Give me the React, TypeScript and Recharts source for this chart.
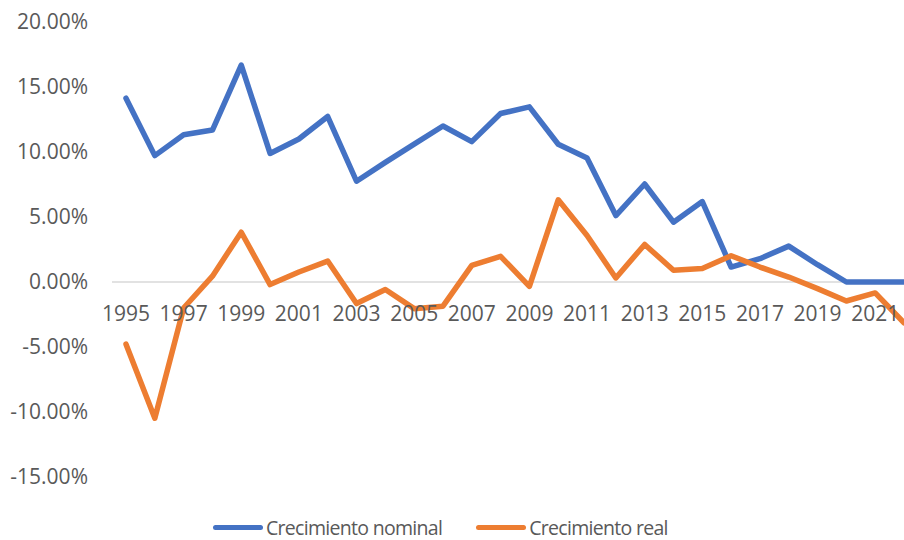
import React from "react";
import {
  LineChart,
  Line,
  XAxis,
  YAxis,
  ReferenceLine,
  LabelList,
  Legend,
} from "recharts";

const years = [
  1995, 1996, 1997, 1998, 1999, 2000, 2001, 2002, 2003, 2004, 2005, 2006, 2007,
  2008, 2009, 2010, 2011, 2012, 2013, 2014, 2015, 2016, 2017, 2018, 2019, 2020,
  2021, 2022,
];

// % growth
const nominal = [
  14.14, 9.72, 11.33, 11.69, 16.69, 9.89, 11.0, 12.73, 7.75, 9.2, 10.6, 12.0,
  10.8, 12.96, 13.47, 10.6, 9.54, 5.11, 7.54, 4.6, 6.19, 1.15, 1.79, 2.76, 1.33,
  0, 0, 0,
];

const real = [
  -4.78, -10.48, -2.0, 0.45, 3.83, -0.2, 0.77, 1.61, -1.66, -0.58, -2.05, -1.86,
  1.28, 1.97, -0.33, 6.32, 3.58, 0.31, 2.89, 0.9, 1.03, 2.02, 1.15, 0.38, -0.51,
  -1.46, -0.84, -3.14,
];

const yTicks = [-15, -10, -5, 0, 5, 10, 15, 20];

const data = years.map((year, i) => ({
  year,
  nominal: nominal[i],
  real: real[i],
}));

const FONT = "'Open Sans', sans-serif";
const TEXT = "#595959";

// year labels sit under the zero line, every other year
const YearLabel = (props: any) => {
  const { x, y, value } = props;
  if (Number(value) % 2 === 0) return null;
  return (
    <text
      x={x}
      y={y + 39}
      textAnchor="middle"
      fontSize={21}
      fontFamily={FONT}
      fill={TEXT}
    >
      {value}
    </text>
  );
};

const renderLegend = (props: any) => {
  const { payload } = props;
  return (
    <div style={{ display: "flex", alignItems: "center", fontFamily: FONT }}>
      {payload.map((entry: any) => (
        <div
          key={entry.value}
          style={{ display: "flex", alignItems: "center", marginRight: 34 }}
        >
          <div
            style={{
              width: 50,
              height: 5,
              borderRadius: 3,
              background: entry.color,
              marginRight: 3,
            }}
          />
          <span
            style={{
              fontSize: 19.5,
              letterSpacing: -0.7,
              color: TEXT,
              whiteSpace: "nowrap",
            }}
          >
            {entry.value}
          </span>
        </div>
      ))}
    </div>
  );
};

export default function App() {
  return (
    <div
      style={{
        position: "fixed",
        left: 0,
        top: 0,
        width: 904,
        height: 540,
        overflow: "hidden",
        background: "#fff",
      }}
    >
      <LineChart
        width={918}
        height={540}
        data={data}
        margin={{ top: 22, right: 0, bottom: 63, left: 0 }}
      >
        <XAxis dataKey="year" hide padding={{ left: 14, right: 14 }} />
        <YAxis
          width={112}
          domain={[-15, 20]}
          ticks={yTicks}
          axisLine={false}
          tickLine={false}
          tickSize={0}
          tickMargin={24}
          tickFormatter={(v: number) => `${v.toFixed(2)}%`}
          tick={{ fontSize: 21, fill: TEXT, fontFamily: FONT }}
        />
        <ReferenceLine y={0} stroke="#d9d9d9" strokeWidth={1.5} />
        <Line
          dataKey={() => 0}
          stroke="none"
          dot={false}
          activeDot={false}
          legendType="none"
          isAnimationActive={false}
        >
          <LabelList dataKey="year" content={YearLabel} />
        </Line>
        <Line
          type="linear"
          dataKey="nominal"
          name="Crecimiento nominal"
          stroke="#4472C4"
          strokeWidth={5.5}
          strokeLinejoin="round"
          strokeLinecap="round"
          dot={false}
          isAnimationActive={false}
        />
        <Line
          type="linear"
          dataKey="real"
          name="Crecimiento real"
          stroke="#ED7D31"
          strokeWidth={5.5}
          strokeLinejoin="round"
          strokeLinecap="round"
          dot={false}
          isAnimationActive={false}
        />
        <Legend
          verticalAlign="middle"
          align="center"
          layout="horizontal"
          content={renderLegend}
          wrapperStyle={{ top: 514, left: 213, width: 520, height: 28 }}
        />
      </LineChart>
    </div>
  );
}
